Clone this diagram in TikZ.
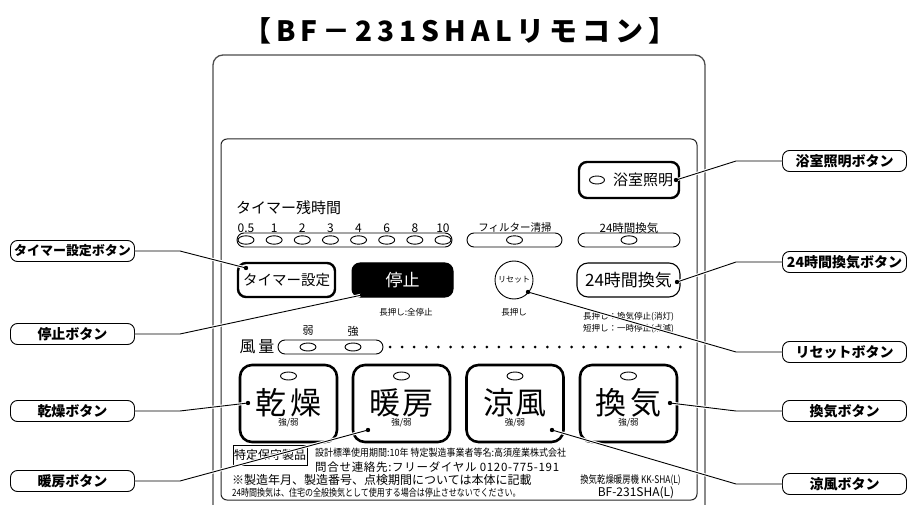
\documentclass[tikz,border=0pt]{standalone}
\usepackage{fontspec}
\setmainfont{Noto Sans CJK JP}
\tikzset{
  fs/.style={font=\fontsize{#1}{#1}\selectfont},
  outline/.style={draw=black!70, line width=1.3pt},
  panel/.style={draw=black!85, line width=1pt},
  thickbtn/.style={draw, line width=2.4pt, rounded corners=8pt, inner sep=0pt},
  bigbtn/.style={draw, line width=2.6pt, rounded corners=12pt, minimum width=97pt, minimum height=77pt, inner sep=0pt},
  lbl/.style={draw, line width=0.9pt, rounded corners=7pt, minimum width=124pt, minimum height=21pt, inner sep=0pt, font=\bfseries\fontsize{14}{14}\selectfont},
  conn/.style={line width=0.9pt, preaction={draw=white, line width=3pt}},
  led/.style={draw, line width=0.9pt},
  txt/.style={inner sep=0pt},
}
\begin{document}
\begin{tikzpicture}[x=1pt,y=-1pt]
\useasboundingbox (0,0) rectangle (908,505);
% title
\node[txt] (title) at (460,31) {\bfseries\fontsize{28}{28}\selectfont\addfontfeatures{LetterSpace=18}【BF－231SHALリモコン】};
% remote body
\draw[outline, rounded corners=10pt] (213,506) -- (213,55) -- (705,55) -- (705,506);
\draw[panel, rounded corners=6pt] (221,139) rectangle (697,500);
% bath light
\node[thickbtn, minimum width=100pt, minimum height=36pt] (bath) at (629,180) {};
\draw[led] (597,180) ellipse [x radius=7.5pt, y radius=4pt];
\node[txt, fs=15] (bathtxt) at (643,180) {浴室照明};
% timer remaining
\node[txt, fs=15, anchor=west] (timerlbl) at (236,208) {タイマー残時間};
\draw[led, rounded corners=7pt] (237,233) rectangle (452,247);
\foreach \v [count=\i from 0] in {0.5,1,2,3,4,6,8,10} {
  \node[txt, fs=12] (n\i) at ({246+28.14*\i},228) {\v};
  \draw[led] ({246+28.14*\i},240) ellipse [x radius=8pt, y radius=4.2pt];
}
\node[txt, fs=10.5] (filt) at (515,228) {フィルター清掃};
\draw[led, rounded corners=7pt] (467,233) rectangle (562,247);
\draw[led] (514.5,240) ellipse [x radius=8pt, y radius=4.2pt];
\node[txt, fs=11.5] (h24) at (629,228) {24時間換気};
\draw[led, rounded corners=7pt] (578,233) rectangle (680,247);
\draw[led] (629,240) ellipse [x radius=8pt, y radius=4.2pt];
% row of buttons
\node[thickbtn, minimum width=97pt, minimum height=34pt, fs=14.5] (timer) at (286.5,280) {タイマー設定};
\node[draw, fill=black, rounded corners=8pt, line width=1pt, minimum width=101pt, minimum height=34pt, inner sep=0pt, text=white, fs=17] (stop) at (402.5,280) {停止};
\node[txt, fs=8.5] (stopnote) at (406,312) {長押し:全停止};
\node[draw, circle, line width=0.9pt, minimum size=38pt, inner sep=0pt] (reset) at (514,280) {};
\node[txt, fs=8] (resettxt) at (514,280) {リセット};
\node[txt, fs=8.5] (resetnote) at (514,312) {長押し};
\node[draw, line width=1.1pt, rounded corners=11pt, minimum width=103pt, minimum height=34pt, inner sep=0pt, fs=17] (b24) at (628.5,280) {24時間換気};
\node[txt, fs=8.5, anchor=west] (note1) at (583,317) {長押し：換気停止(消灯)};
\node[txt, fs=8.5, anchor=west] (note2) at (583,329) {短押し：一時停止(点滅)};
% air volume
\node[txt, fs=16] (fuu) at (257,347) {風\hspace{3pt}量};
\node[txt, fs=11] (weak) at (308,331) {弱};
\node[txt, fs=11] (strong) at (353,331) {強};
\draw[led, rounded corners=7pt] (278,340) rectangle (383,354);
\draw[led] (308,347) ellipse [x radius=8pt, y radius=4pt];
\draw[led] (353,347) ellipse [x radius=8pt, y radius=4pt];
\foreach \i in {0,...,24} { \fill ({390+12.1*\i},347) circle (1.5pt); }
% big buttons
\foreach \nm/\cx/\t in {dry/288.5/乾\hspace{5pt}燥, heat/401.5/暖\hspace{2pt}房, cool/515/涼\hspace{2pt}風, vent/628.5/換\hspace{4pt}気} {
  \node[bigbtn] (\nm) at (\cx,403.5) {};
  \draw[led] (\cx,376) ellipse [x radius=8pt, y radius=4pt];
  \node[txt, fs=31] (\nm-t) at (\cx,403) {\t};
  \node[txt, fs=8.5] (\nm-s) at (\cx,423) {強/弱};
}
% bottom texts
\node[draw, line width=0.8pt, minimum width=74pt, minimum height=20pt, inner sep=0pt, fs=12] (toku) at (270,455) {特定保守製品};
\node[txt, anchor=west] (line1) at (315,453) {\scalebox{0.9}[1]{\fontsize{10}{10}\selectfont 設計標準使用期間:10年 特定製造事業者等名:高須産業株式会社}};
\node[txt, anchor=west] (line2) at (315,467) {\fontsize{11.5}{11.5}\selectfont\addfontfeatures{LetterSpace=6}問合せ連絡先:フリーダイヤル 0120-775-191};
\node[txt, anchor=west] (line3) at (232,480) {\fontsize{12}{12}\selectfont ※製造年月、製造番号、点検期間については本体に記載};
\node[txt, anchor=west] (line4) at (232,493) {\scalebox{0.8}[1]{\fontsize{10}{10}\selectfont 24時間換気は、住宅の全般換気として使用する場合は停止させないでください。}};
\node[txt, anchor=east] (model1) at (681,480) {\scalebox{0.8}[1]{\fontsize{10.5}{10.5}\selectfont 換気乾燥暖房機 KK-SHA(L)}};
\node[txt] (model2) at (636,493) {\fontsize{12}{12}\selectfont BF-231SHA(L)};
% callout labels
\node[lbl] (l-timer) at (72.5,251) {\fontsize{13}{13}\selectfont タイマー設定ボタン};
\node[lbl] (l-stop) at (72.5,334) {停止ボタン};
\node[lbl] (l-dry) at (72.5,411) {乾燥ボタン};
\node[lbl] (l-heat) at (72.5,481) {暖房ボタン};
\node[lbl] (l-bath) at (844.5,161) {浴室照明ボタン};
\node[lbl] (l-24) at (844.5,262) {24時間換気ボタン};
\node[lbl] (l-reset) at (844.5,352) {リセットボタン};
\node[lbl] (l-vent) at (844.5,411) {換気ボタン};
\node[lbl] (l-cool) at (844.5,484) {涼風ボタン};
% anchor points on buttons
\coordinate (p-timer) at (246,268);
\coordinate (p-stop) at (362,295);
\coordinate (p-dry) at (248,403);
\coordinate (p-heat) at (368,430);
\coordinate (p-bath) at (676,180);
\coordinate (p-24) at (677,282);
\coordinate (p-reset) at (528,292);
\coordinate (p-vent) at (670,403);
\coordinate (p-cool) at (552,430);
% connectors
\foreach \l/\p in {timer/timer, stop/stop, dry/dry, heat/heat} {
  \draw[conn] (l-\l.east) -- ++(45,0) -- (p-\p);
  \fill (p-\p) circle (2.2pt);
}
\foreach \l/\p in {bath/bath, 24/24, reset/reset, vent/vent, cool/cool} {
  \draw[conn] (l-\l.west) -- ++(-46,0) -- (p-\p);
  \fill (p-\p) circle (2.2pt);
}
\end{tikzpicture}
\end{document}
